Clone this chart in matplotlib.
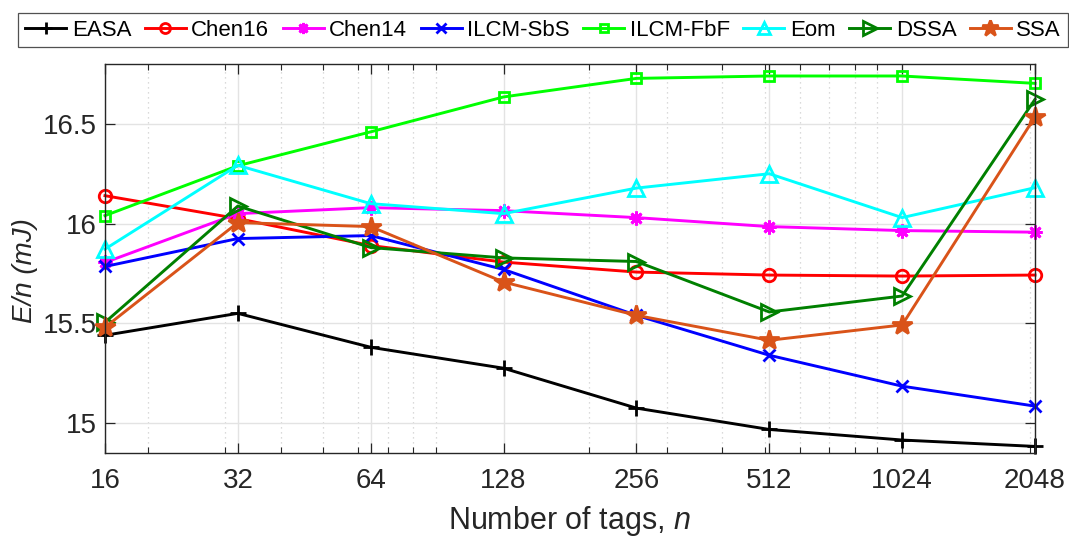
import numpy as np
import matplotlib.pyplot as plt
from matplotlib.ticker import FixedLocator, FixedFormatter, NullFormatter

plt.rcParams['font.family'] = ['Liberation Sans', 'DejaVu Sans']
plt.rcParams['mathtext.fontset'] = 'custom'
plt.rcParams['mathtext.rm'] = 'Liberation Sans'
plt.rcParams['mathtext.it'] = 'Liberation Sans:italic'

# number of tags and per-tag energy (mJ) for each scheme
n_tags = [16, 32, 64, 128, 256, 512, 1024, 2048]
tick_labels = ['16', '32', '64', '128', '256', '512', '1024', '2048']

easa = [15.44, 15.55, 15.38, 15.275, 15.075, 14.968, 14.915, 14.883]
chen16 = [16.14, 16.025, 15.89, 15.807, 15.757, 15.742, 15.737, 15.742]
chen14 = [15.805, 16.05, 16.08, 16.065, 16.03, 15.985, 15.965, 15.957]
ilcm_sbs = [15.785, 15.925, 15.94, 15.77, 15.54, 15.34, 15.185, 15.085]
ilcm_fbf = [16.04, 16.29, 16.46, 16.635, 16.728, 16.74, 16.74, 16.703]
eom = [15.872, 16.292, 16.10, 16.05, 16.178, 16.25, 16.03, 16.18]
dssa = [15.505, 16.088, 15.88, 15.828, 15.81, 15.557, 15.637, 16.623]
ssa = [15.48, 16.005, 15.985, 15.707, 15.54, 15.415, 15.492, 16.535]

series = [
    ('EASA', easa, 'black', '+', 11, 'none'),
    ('Chen16', chen16, '#ff0000', 'o', 9, 'none'),
    ('Chen14', chen14, '#ff00ff', (8, 2, 0), 10, 'none'),
    ('ILCM-SbS', ilcm_sbs, '#0000ff', 'x', 9, 'none'),
    ('ILCM-FbF', ilcm_fbf, '#00ff00', 's', 7, 'none'),
    ('Eom', eom, '#00ffff', '^', 11, 'none'),
    ('DSSA', dssa, '#008000', '>', 12, 'none'),
    ('SSA', ssa, '#d95319', '*', 15, '#d95319'),
]

fig = plt.figure(figsize=(10.69, 5.38), dpi=100)
ax = fig.add_axes([0.0982, 0.158, 0.8700, 0.723])

for name, vals, col, mk, ms, fc in series:
    ax.plot(n_tags, vals, color=col, lw=2.1, marker=mk, markersize=ms,
            markerfacecolor=fc, markeredgecolor=col, markeredgewidth=2.0,
            label=name, clip_on=False)

ax.set_xscale('log')
ax.set_xlim(16, 2048)
ax.set_ylim(14.85, 16.8)
ax.xaxis.set_major_locator(FixedLocator(n_tags))
ax.xaxis.set_major_formatter(FixedFormatter(tick_labels))
ax.xaxis.set_minor_formatter(NullFormatter())
ax.set_yticks([15, 15.5, 16, 16.5])
ax.set_yticklabels(['15', '15.5', '16', '16.5'])

ax.grid(True, which='major', color='#e3e3e3', lw=1.0, ls='-')
ax.grid(True, which='minor', axis='x', color='#cfcfcf', lw=0.9, ls=(0, (1, 3)))
ax.set_axisbelow(True)

ax.tick_params(which='both', direction='in', top=True, right=True,
               colors='#262626', labelcolor='#262626')
ax.tick_params(which='major', length=7, width=0.9)
ax.tick_params(which='minor', length=4, width=0.8)
ax.tick_params(axis='x', labelsize=20, pad=11)
ax.tick_params(axis='y', labelsize=20, pad=6)
for sp in ax.spines.values():
    sp.set_color('#262626')
    sp.set_linewidth(1.0)

ax.set_xlabel('Number of tags, $\\mathit{n}$', fontsize=22, color='#262626', labelpad=7)
ax.set_ylabel('E/n (mJ)', fontsize=20, style='italic', color='#262626', labelpad=0)
ax.yaxis.set_label_coords(-0.072, 0.47)

leg = fig.legend(loc='center', bbox_to_anchor=(0.508, 0.944), ncol=8,
                 fontsize=16, frameon=True, fancybox=False, edgecolor='#262626',
                 handlelength=1.85, handletextpad=0.25, columnspacing=0.6,
                 borderpad=0.3, borderaxespad=0.2, markerscale=0.8)
leg.get_frame().set_linewidth(0.9)

fig.savefig('out.png', dpi=100)
